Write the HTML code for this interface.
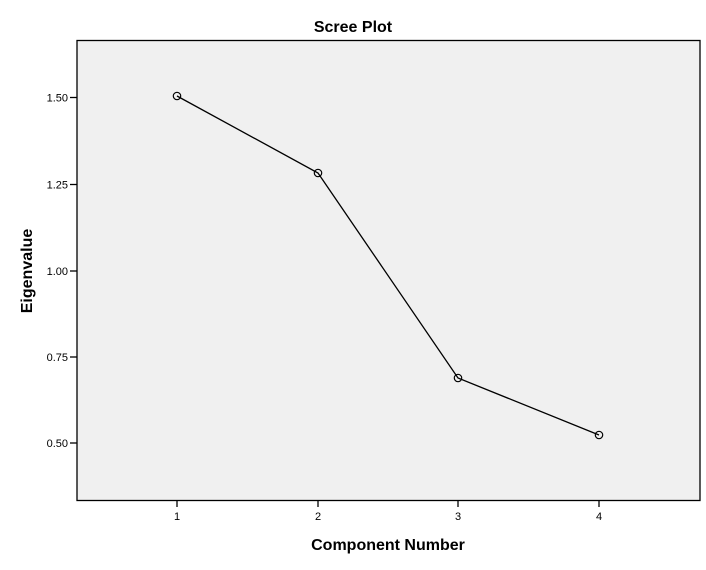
<!DOCTYPE html>
<html><head><style>body{margin:0;background:#fff}</style></head><body>
<svg width="706" height="565" xmlns="http://www.w3.org/2000/svg" font-family="Liberation Sans, sans-serif">
<rect x="0" y="0" width="706" height="565" fill="#fff"/>
<text x="353" y="32" text-anchor="middle" font-size="16" font-weight="bold">Scree Plot</text>
<rect x="77" y="40.5" width="623" height="460" fill="#f0f0f0" stroke="#000" stroke-width="1.3"/>
<g stroke="#000" stroke-width="1.3">
<line x1="70" y1="97.5" x2="77" y2="97.5"/><line x1="70" y1="184.5" x2="77" y2="184.5"/>
<line x1="70" y1="271" x2="77" y2="271"/><line x1="70" y1="357" x2="77" y2="357"/>
<line x1="70" y1="443" x2="77" y2="443"/>
<line x1="177" y1="500" x2="177" y2="507"/><line x1="318" y1="500" x2="318" y2="507"/>
<line x1="458" y1="500" x2="458" y2="507"/><line x1="599" y1="500" x2="599" y2="507"/>
</g>
<g font-size="11" text-anchor="end">
<text x="68" y="101.5">1.50</text><text x="68" y="188.5">1.25</text><text x="68" y="275">1.00</text><text x="68" y="361">0.75</text><text x="68" y="447">0.50</text>
</g>
<g font-size="11" text-anchor="middle">
<text x="177" y="520">1</text><text x="318" y="520">2</text><text x="458" y="520">3</text><text x="599" y="520">4</text>
</g>
<text x="388" y="550" text-anchor="middle" font-size="16" font-weight="bold">Component Number</text>
<text transform="translate(32,271) rotate(-90)" text-anchor="middle" font-size="16" font-weight="bold">Eigenvalue</text>
<polyline points="177,96 318,173 458,378 599,435" fill="none" stroke="#000" stroke-width="1.3"/>
<g fill="none" stroke="#000" stroke-width="1.2">
<circle cx="177" cy="96" r="3.7"/><circle cx="318" cy="173" r="3.7"/><circle cx="458" cy="378" r="3.7"/><circle cx="599" cy="435" r="3.7"/>
</g>
</svg>
</body></html>
